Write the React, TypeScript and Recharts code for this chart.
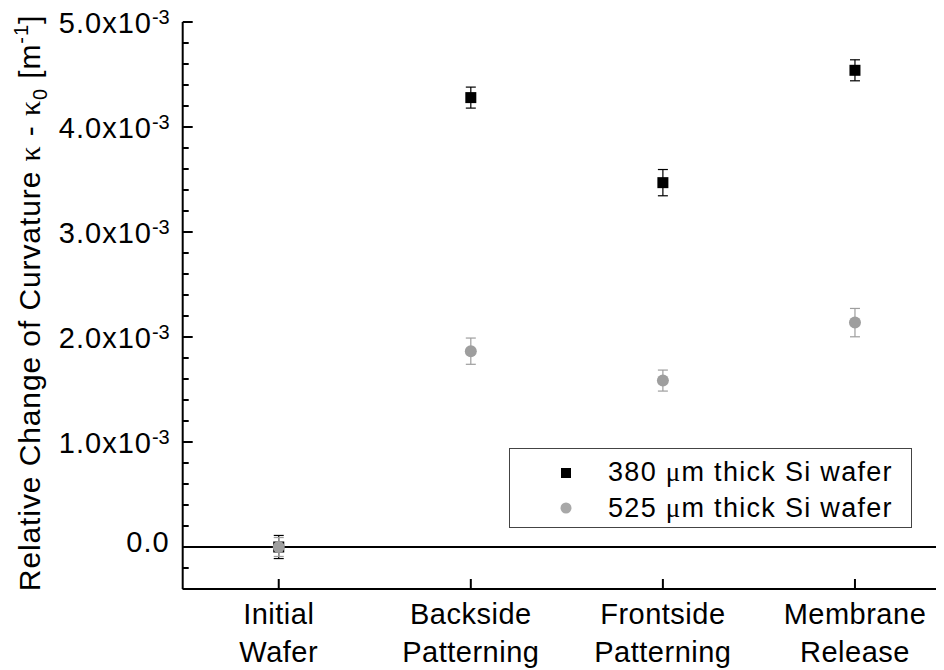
import React from "react";
import { ScatterChart, Scatter, XAxis, YAxis, ErrorBar, ReferenceLine, Legend } from "recharts";

// process steps on the x axis
const stages = ["Initial Wafer", "Backside Patterning", "Frontside Patterning", "Membrane Release"];
const stageIndex = [0, 1, 2, 3];

// relative change of curvature, m^-1
const wafer380 = [0, 4.28e-3, 3.47e-3, 4.54e-3];
const wafer380Err = [0.11e-3, 0.1e-3, 0.125e-3, 0.1e-3];
const wafer525 = [0, 1.865e-3, 1.585e-3, 2.137e-3];
const wafer525Err = [0.09e-3, 0.125e-3, 0.1e-3, 0.135e-3];

const yMajorTicks = [0, 1e-3, 2e-3, 3e-3, 4e-3, 5e-3];
const yMajorLabels = ["0.0", "1.0", "2.0", "3.0", "4.0", "5.0"];
const yMinorTicks = [
    -0.4e-3, -0.2e-3, 0.2e-3, 0.4e-3, 0.6e-3, 0.8e-3, 1.2e-3, 1.4e-3, 1.6e-3, 1.8e-3,
    2.2e-3, 2.4e-3, 2.6e-3, 2.8e-3, 3.2e-3, 3.4e-3, 3.6e-3, 3.8e-3, 4.2e-3, 4.4e-3, 4.6e-3, 4.8e-3,
];

const FONT = "'Liberation Sans', Arial, sans-serif";
const SERIF = "'Liberation Serif', serif";
const GREY = "#9e9e9e";

const data380 = stageIndex.map((i) => ({ x: i, y: wafer380[i], err: wafer380Err[i] }));
const data525 = stageIndex.map((i) => ({ x: i, y: wafer525[i], err: wafer525Err[i] }));

function YTick(props: any) {
    const { x, y, payload } = props;
    const i = yMajorTicks.findIndex((t) => Math.abs(t - payload.value) < 1e-9);
    if (i < 0) {
        return <line x1={x} x2={x + 6} y1={y} y2={y} stroke="#000" strokeWidth={2} />;
    }
    const label = yMajorLabels[i];
    return (
        <g>
            <line x1={x} x2={x + 10} y1={y} y2={y} stroke="#000" strokeWidth={2} />
            {label === "0.0" ? (
                <text x={x - 13} y={y + 5} textAnchor="end" fontSize={29} letterSpacing={1} fontFamily={FONT} fill="#000">
                    0.0
                </text>
            ) : (
                <text x={x - 13} y={y + 11} textAnchor="end" fontSize={29} letterSpacing={1} fontFamily={FONT} fill="#000">
                    {label}x10
                    <tspan dy={-9} fontSize={20} letterSpacing={0}>-3</tspan>
                </text>
            )}
        </g>
    );
}

function BottomTick(props: any) {
    const { x, y, payload } = props;
    const words = stages[payload.value].split(" ");
    return (
        <g>
            <line x1={x} x2={x} y1={y} y2={y - 10} stroke="#000" strokeWidth={2} />
            <text x={x} y={y + 35} textAnchor="middle" fontSize={29} letterSpacing={0.5} fontFamily={FONT} fill="#000">
                {words[0]}
            </text>
            <text x={x} y={y + 73} textAnchor="middle" fontSize={29} letterSpacing={0.5} fontFamily={FONT} fill="#000">
                {words[1]}
            </text>
        </g>
    );
}

function TopTick(props: any) {
    const { x, y } = props;
    return <line x1={x} x2={x} y1={y} y2={y + 11} stroke="#000" strokeWidth={2} />;
}

function SquareDot(props: any) {
    const { cx, cy } = props;
    return <rect x={cx - 5.5} y={cy - 5.5} width={11} height={11} fill="#000" />;
}

function RoundDot(props: any) {
    const { cx, cy } = props;
    return <circle cx={cx} cy={cy} r={6} fill={GREY} />;
}

function YLabel() {
    return (
        <text
            x={32}
            y={295}
            transform="rotate(-90 32 295)"
            textAnchor="middle"
            fontSize={30}
            letterSpacing={0.9}
            fontFamily={FONT}
            fill="#000"
        >
            Relative Change of Curvature{" "}
            <tspan fontFamily={SERIF}>κ</tspan> -{" "}
            <tspan fontFamily={SERIF}>κ</tspan>
            <tspan dy={7} fontSize={20}>0</tspan>
            <tspan dy={-7}> [m</tspan>
            <tspan dy={-12} fontSize={20}>-1</tspan>
            <tspan dy={12}>]</tspan>
        </text>
    );
}

function LegendBox() {
    return (
        <svg width={403} height={80} style={{ display: "block" }}>
            <rect x={0.5} y={0.5} width={402} height={79} fill="#fff" stroke="#444" strokeWidth={1} />
            <rect x={52} y={20} width={10} height={10} fill="#000" />
            <text x={99} y={33} fontSize={27} letterSpacing={1.3} fontFamily={FONT} fill="#000">
                380 <tspan fontFamily={SERIF}>μ</tspan>m thick Si wafer
            </text>
            <circle cx={57} cy={60} r={5.5} fill="#a8a8a8" />
            <text x={99} y={69} fontSize={27} letterSpacing={1.3} fontFamily={FONT} fill="#000">
                525 <tspan fontFamily={SERIF}>μ</tspan>m thick Si wafer
            </text>
        </svg>
    );
}

function App(): JSX.Element {
    return (
        <div style={{ width: 936, height: 662, overflow: "hidden" }}>
            <ScatterChart width={960} height={662} margin={{ top: 14, right: 17, left: 0, bottom: 0 }}>
                <XAxis
                    type="number"
                    dataKey="x"
                    domain={[-0.5, 3.5]}
                    ticks={stageIndex}
                    interval={0}
                    height={81}
                    tickSize={0}
                    tickMargin={0}
                    tickLine={false}
                    tick={<BottomTick />}
                    axisLine={{ stroke: "#000", strokeWidth: 2 }}
                />
                <XAxis
                    xAxisId="top"
                    orientation="top"
                    type="number"
                    dataKey="x"
                    domain={[-0.5, 3.5]}
                    ticks={stageIndex}
                    interval={0}
                    height={0}
                    tickSize={0}
                    tickMargin={0}
                    tickLine={false}
                    tick={<TopTick />}
                    axisLine={{ stroke: "#000", strokeWidth: 2 }}
                />
                <YAxis
                    type="number"
                    dataKey="y"
                    domain={[-0.4e-3, 5e-3]}
                    ticks={[...yMinorTicks, ...yMajorTicks].sort((a, b) => a - b)}
                    interval={0}
                    width={174.7}
                    tickSize={0}
                    tickMargin={0}
                    tickLine={false}
                    tick={<YTick />}
                    axisLine={{ stroke: "#000", strokeWidth: 2 }}
                    label={<YLabel />}
                />
                <ReferenceLine y={0} stroke="#000" strokeWidth={2} />
                <Legend
                    layout="vertical"
                    align="center"
                    verticalAlign="middle"
                    content={<LegendBox />}
                    wrapperStyle={{ position: "absolute", left: 501, top: 440, width: 403, height: 80 }}
                />
                <Scatter name="380 µm thick Si wafer" data={data380} shape={<SquareDot />} isAnimationActive={false}>
                    <ErrorBar dataKey="err" direction="y" width={5} stroke="#000" strokeWidth={1.2} />
                </Scatter>
                <Scatter name="525 µm thick Si wafer" data={data525} shape={<RoundDot />} isAnimationActive={false}>
                    <ErrorBar dataKey="err" direction="y" width={5} stroke={GREY} strokeWidth={1.2} />
                </Scatter>
            </ScatterChart>
        </div>
    );
}

export default App;
